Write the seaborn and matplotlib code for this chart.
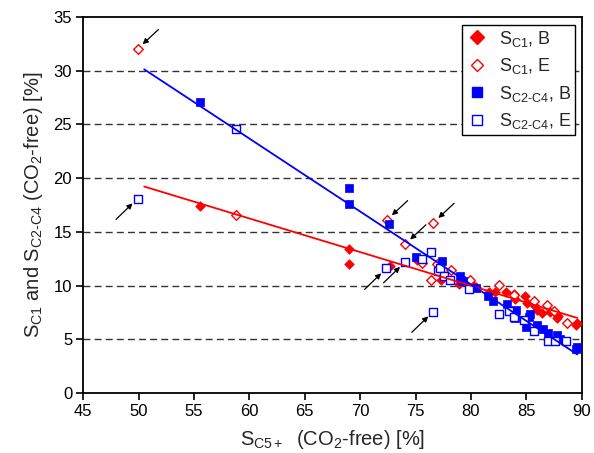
import numpy as np
import pandas as pd
import matplotlib
matplotlib.use("Agg")
import matplotlib.pyplot as plt
from matplotlib.lines import Line2D
import seaborn as sns

# Selectivities vs. S_C5+ (CO2-free basis), in %
# S_C1, catalyst B
sc1_b_x = [55.5, 69.0, 69.0, 72.7, 75.1, 77.3, 78.9, 80.2, 80.45, 81.6, 82.2, 83.15,
           83.9, 84.0, 84.9, 85.05, 85.65, 86.0, 86.4, 87.1, 87.75, 87.9, 89.45, 89.6]
sc1_b_y = [17.4, 13.4, 12.0, 11.8, 12.4, 10.5, 10.15, 10.05, 9.85, 9.45, 9.45, 9.4,
           9.2, 8.8, 9.0, 8.4, 8.2, 7.75, 7.5, 7.6, 7.0, 7.2, 6.35, 6.5]
# S_C1, catalyst E
sc1_e_x = [58.8, 75.6, 76.4, 76.9, 78.2, 79.9, 82.5, 83.9, 85.65, 86.9, 87.5, 88.65]
sc1_e_y = [16.55, 12.1, 10.5, 12.0, 11.45, 10.5, 10.1, 9.1, 8.55, 8.25, 7.65, 6.5]
# S_C1, catalyst E, points left out of the fit
sc1_e_out_x = [49.9, 72.4, 76.6, 74.05]
sc1_e_out_y = [32.0, 16.1, 15.85, 13.85]

# S_C2-C4, catalyst B
sc24_b_x = [55.5, 69.0, 69.0, 72.6, 75.0, 77.4, 79.0, 79.1, 79.3, 80.45, 81.5, 82.0,
            83.3, 84.1, 84.0, 84.75, 85.0, 85.3, 85.2, 86.0, 86.55, 87.0, 87.8, 88.0,
            89.45, 89.6]
sc24_b_y = [27.1, 19.05, 17.6, 15.7, 12.7, 12.3, 10.9, 10.5, 10.4, 9.75, 9.05, 8.6,
            8.3, 7.75, 7.0, 6.8, 6.2, 7.4, 7.05, 6.35, 6.0, 5.6, 5.4, 5.0,
            4.15, 4.3]
# S_C2-C4, catalyst E
sc24_e_x = [58.8, 75.6, 76.4, 77.05, 77.2, 77.6, 78.15, 79.8, 82.55, 83.45, 83.9,
            84.75, 85.65, 86.95, 87.6, 88.6]
sc24_e_y = [24.6, 12.45, 13.15, 11.4, 11.6, 10.9, 10.5, 9.65, 7.4, 7.65, 7.1,
            6.8, 5.75, 4.9, 4.9, 4.9]
# S_C2-C4, catalyst E, points left out of the fit
sc24_e_out_x = [49.9, 72.35, 74.05, 76.6]
sc24_e_out_y = [18.1, 11.6, 12.2, 7.6]

# x-range over which the linear trends are drawn
fit_x_range = [50.5, 89.6]

RED = "#ff0000"
BLUE = "#0000ff"

sns.set_style("ticks")
plt.rcParams.update({
    "font.family": ["Liberation Sans", "DejaVu Sans"],
    "mathtext.fontset": "custom",
    "mathtext.rm": "Liberation Sans",
    "mathtext.it": "Liberation Sans:italic",
    "mathtext.bf": "Liberation Sans:bold",
    "axes.linewidth": 1.3,
    "axes.edgecolor": "black",
})

fig = plt.figure(figsize=(5.94, 4.53), dpi=100)
ax = fig.add_axes([0.1402, 0.1318, 0.8391, 0.8313])

# horizontal dashed grid
for yv in range(5, 35, 5):
    ax.axhline(yv, color="#333333", lw=1.0, ls=(0, (5, 3)), zorder=1)

# linear trends (excluded points not used)
fx = np.linspace(fit_x_range[0], fit_x_range[1], 50)
red_fit = np.polyfit(sc1_b_x + sc1_e_x, sc1_b_y + sc1_e_y, 1)
blue_fit = np.polyfit(sc24_b_x + sc24_e_x, sc24_b_y + sc24_e_y, 1)

# markers
sns.scatterplot(x=sc1_b_x, y=sc1_b_y, marker="D", s=24, color=RED,
                edgecolor=RED, linewidth=0.5, ax=ax, zorder=3)
sns.scatterplot(x=sc1_e_x + sc1_e_out_x, y=sc1_e_y + sc1_e_out_y, marker="D", s=24,
                facecolor="white", edgecolor=RED, linewidth=1.0, ax=ax, zorder=4)
sns.scatterplot(x=sc24_b_x, y=sc24_b_y, marker="s", s=38, color=BLUE,
                edgecolor=BLUE, linewidth=0.5, ax=ax, zorder=5)
sns.scatterplot(x=sc24_e_x + sc24_e_out_x, y=sc24_e_y + sc24_e_out_y, marker="s", s=40,
                facecolor="white", edgecolor=BLUE, linewidth=1.0, ax=ax, zorder=6)

sns.lineplot(x=fx, y=np.polyval(red_fit, fx), color=RED, lw=1.3, ax=ax, zorder=7)
sns.lineplot(x=fx, y=np.polyval(blue_fit, fx), color=BLUE, lw=1.3, ax=ax, zorder=7)

# arrows marking the excluded points
arrow_kw = dict(arrowstyle="-|>", color="black", lw=0.9, mutation_scale=8,
                shrinkA=0, shrinkB=5)
for px, py in zip(sc1_e_out_x, sc1_e_out_y):
    ax.annotate("", xy=(px, py), xytext=(15, 14), textcoords="offset points",
                arrowprops=arrow_kw, zorder=8)
for px, py in zip(sc24_e_out_x, sc24_e_out_y):
    ax.annotate("", xy=(px, py), xytext=(-15.5, -15), textcoords="offset points",
                arrowprops=arrow_kw, zorder=8)

ax.set_xlim(45, 90)
ax.set_ylim(0, 35)
ax.set_xticks(range(45, 91, 5))
ax.set_yticks(range(0, 36, 5))
ax.tick_params(axis="both", direction="out", length=5, width=1.2, labelsize=12,
               colors="black", pad=3)
for side in ["top", "right", "left", "bottom"]:
    ax.spines[side].set_visible(True)
    ax.spines[side].set_color("black")

ax.set_xlabel(r"S$_{\mathrm{C5+}}$  (CO$_2$-free) [%]", fontsize=14.5, labelpad=6)
ax.set_ylabel(r"S$_{\mathrm{C1}}$ and S$_{\mathrm{C2}\text{-}\mathrm{C4}}$ (CO$_2$-free) [%]",
              fontsize=14.5, labelpad=6)

handles = [
    Line2D([], [], ls="none", marker="D", ms=7, color=RED, mec=RED),
    Line2D([], [], ls="none", marker="D", ms=6.5, mfc="white", mec=RED, mew=1.0),
    Line2D([], [], ls="none", marker="s", ms=7.5, color=BLUE, mec=BLUE),
    Line2D([], [], ls="none", marker="s", ms=7.5, mfc="white", mec=BLUE, mew=1.0),
]
labels = [r"S$_{\mathrm{C1}}$, B", r"S$_{\mathrm{C1}}$, E",
          r"S$_{\mathrm{C2}\text{-}\mathrm{C4}}$, B", r"S$_{\mathrm{C2}\text{-}\mathrm{C4}}$, E"]
leg = ax.legend(handles, labels, loc="upper right", bbox_to_anchor=(0.987, 0.978),
                fontsize=13, frameon=True, fancybox=False, framealpha=1,
                edgecolor="black", borderpad=0.2, labelspacing=0.42,
                handletextpad=0.65, handlelength=1.2, borderaxespad=0)
leg.get_frame().set_linewidth(1.0)

fig.savefig("out.png", dpi=100)
